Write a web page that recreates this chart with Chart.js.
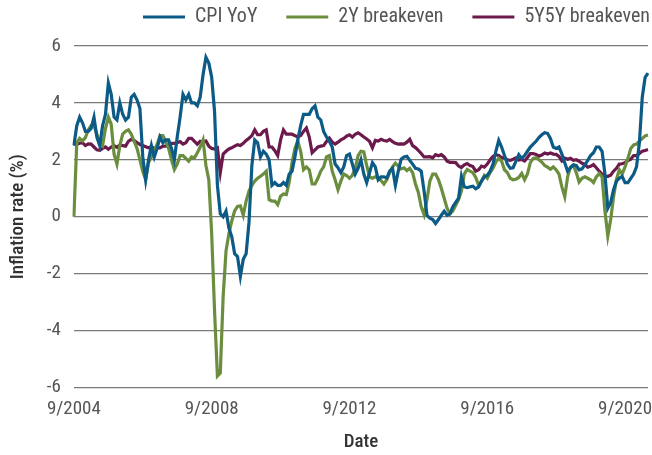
<!DOCTYPE html>
<html>
<head>
<meta charset="utf-8">
<script src="https://cdn.jsdelivr.net/npm/chart.js@4.4.1/dist/chart.umd.min.js"></script>
<style>
html, body { margin: 0; padding: 0; background: #fff; }
#wrap { width: 652px; height: 455px; }
</style>
</head>
<body>
<div id="wrap"><canvas id="myChart"></canvas></div>
<script>
// monthly, 9/2004 .. 5/2021
const cpiYoY = [
    2.5, 3.2, 3.5, 3.3,
    3.0, 3.0, 3.1, 3.5, 2.8, 2.5, 3.2, 3.6, 4.7, 4.3, 3.5, 3.4,
    4.0, 3.6, 3.4, 3.5, 4.2, 4.3, 4.1, 3.8, 2.1, 1.3, 2.0, 2.5,
    2.1, 2.4, 2.8, 2.6, 2.7, 2.7, 2.4, 2.0, 2.8, 3.5, 4.3, 4.1,
    4.3, 4.0, 4.0, 3.9, 4.2, 5.0, 5.6, 5.4, 4.9, 3.7, 1.1, 0.1,
    0.0, 0.2, -0.4, -0.7, -1.3, -1.4, -2.1, -1.5, -1.3, -0.2, 1.8, 2.7,
    2.6, 2.1, 2.3, 2.2, 2.0, 1.1, 1.2, 1.1, 1.1, 1.2, 1.1, 1.5,
    1.6, 2.1, 2.7, 3.2, 3.6, 3.6, 3.6, 3.8, 3.9, 3.5, 3.4, 3.0,
    2.8, 2.65, 2.45, 1.85, 1.72, 1.55, 1.75, 2.15, 2.2, 1.85, 1.5, 1.7,
    2.0, 1.5, 1.2, 1.55, 1.9, 1.75, 1.3, 1.4, 1.4, 1.36, 1.6, 1.7,
    1.1, 1.6, 2.02, 2.1, 2.12, 1.98, 1.85, 1.7, 1.68, 1.6, 0.9, 0.05,
    -0.05, -0.1, -0.24, -0.1, 0.05, 0.19, 0.05, 0.1, 0.35, 0.5, 0.65, 1.42,
    1.05, 1.02, 1.05, 1.07, 0.98, 1.05, 1.25, 1.4, 1.45, 1.6, 1.85, 2.3,
    2.68, 2.45, 2.15, 1.85, 1.7, 1.72, 1.95, 2.18, 2.05, 2.15, 2.3, 2.45,
    2.55, 2.65, 2.78, 2.88, 2.95, 2.93, 2.75, 2.45, 2.4, 2.45, 2.2, 1.9,
    1.6, 1.72, 1.82, 1.8, 1.65, 1.68, 1.82, 1.98, 2.15, 2.25, 2.45, 2.45,
    2.3, 1.5, 0.3, 0.5, 0.95, 1.25, 1.35, 1.42, 1.2, 1.2, 1.35, 1.5,
    1.75, 2.6, 4.2, 4.9, 5.05
];

const breakeven2Y = [
    0.0, 2.6, 2.75, 2.66,
    2.78, 3.05, 3.2, 3.2, 2.9, 2.6, 2.5, 3.1, 3.5, 3.25, 2.2, 1.85,
    2.5, 2.9, 3.0, 3.05, 2.9, 2.65, 2.4, 2.0, 1.6, 1.3, 1.9, 2.1,
    2.3, 2.55, 2.85, 2.85, 2.65, 2.4, 2.0, 1.66, 1.85, 2.15, 2.15, 2.05,
    1.95, 2.1, 2.07, 2.25, 2.45, 2.7, 1.8, 1.3, -0.6, -3.3, -5.6, -5.5,
    -2.8, -1.2, -0.6, -0.15, 0.2, 0.36, 0.38, 0.05, 0.55, 0.9, 1.1, 1.25,
    1.35, 1.42, 1.5, 1.6, 0.6, 0.55, 0.55, 0.42, 0.72, 0.8, 0.78, 1.2,
    1.9, 2.4, 2.66, 2.3, 1.65, 1.75, 1.65, 1.15, 1.15, 1.35, 1.6, 1.75,
    2.1, 2.15, 1.6, 1.3, 0.95, 1.25, 1.5, 1.45, 1.35, 1.45, 1.7, 2.15,
    2.3, 2.28, 1.8, 1.4, 1.35, 1.4, 1.36, 1.27, 1.15, 1.3, 1.55, 1.75,
    1.88, 1.78, 1.68, 1.72, 1.62, 1.7, 1.55, 1.15, 0.85, 0.35, 0.07, 0.6,
    1.25, 1.5, 1.5, 1.3, 1.0, 0.65, 0.3, 0.1, 0.2, 0.4, 0.6, 0.9,
    1.5, 1.66, 1.6, 1.55, 1.38, 1.1, 1.25, 1.45, 1.35, 1.55, 1.7, 1.92,
    2.05, 1.95, 1.65, 1.55, 1.35, 1.3, 1.32, 1.38, 1.52, 1.3, 1.5, 1.9,
    2.05, 2.07, 2.0, 1.92, 1.8, 1.74, 1.67, 1.75, 1.65, 1.5, 1.05, 0.7,
    1.4, 1.75, 1.82, 1.55, 1.22, 1.35, 1.4, 1.35, 1.3, 1.2, 1.4, 1.52,
    1.4, 0.2, -0.68, -0.1, 0.7, 1.3, 1.65, 1.5, 1.75, 2.05, 2.4, 2.52,
    2.55, 2.66, 2.75, 2.84, 2.87
];

const breakeven5Y5Y = [
    2.54, 2.54, 2.58, 2.6,
    2.5, 2.56, 2.55, 2.45, 2.35, 2.33, 2.4, 2.45, 2.37, 2.45, 2.5, 2.44,
    2.52, 2.5, 2.48, 2.65, 2.72, 2.68, 2.6, 2.54, 2.5, 2.46, 2.42, 2.46,
    2.4, 2.42, 2.42, 2.48, 2.48, 2.52, 2.58, 2.58, 2.6, 2.64, 2.55, 2.6,
    2.75, 2.75, 2.65, 2.55, 2.65, 2.62, 2.66, 2.48, 2.4, 2.38, 2.42, 1.55,
    2.2, 2.3, 2.38, 2.42, 2.48, 2.53, 2.5, 2.58, 2.68, 2.76, 2.85, 3.05,
    2.88, 2.88, 3.0, 3.05, 2.45, 2.45, 2.32, 2.15, 2.7, 3.05, 2.9, 2.9,
    2.9, 2.85, 2.8, 2.85, 3.0, 3.12, 2.8, 2.25, 2.35, 2.45, 2.48, 2.5,
    2.64, 2.76, 2.62, 2.55, 2.62, 2.7, 2.75, 2.83, 2.88, 2.8, 2.9, 2.95,
    2.88, 2.8, 2.73, 2.65, 2.42, 2.68, 2.66, 2.72, 2.68, 2.66, 2.72, 2.64,
    2.58, 2.55, 2.56, 2.55, 2.62, 2.72, 2.5, 2.43, 2.33, 2.22, 2.1, 2.1,
    2.11, 2.07, 2.18, 2.14, 2.18, 2.1, 1.95, 1.91, 1.91, 1.9, 1.78, 1.73,
    1.82, 1.87, 1.8, 1.76, 1.6, 1.65, 1.78, 1.74, 1.85, 2.0, 2.12, 2.18,
    2.15, 2.08, 2.07, 2.0, 1.98, 2.02, 2.07, 1.99, 2.01, 1.96, 2.08, 2.22,
    2.22, 2.19, 2.13, 2.17, 2.24, 2.2, 2.24, 2.2, 2.19, 2.12, 1.96, 2.06,
    2.02, 2.05, 1.98, 2.0, 1.95, 1.88, 1.84, 1.74, 1.77, 1.83, 1.72, 1.6,
    1.5, 1.42, 1.42, 1.46, 1.6, 1.7, 1.85, 1.86, 1.9, 1.97, 2.02, 2.15,
    2.15, 2.22, 2.3, 2.33, 2.36
];

const tickLabels = ['9/2004', '9/2008', '9/2012', '9/2016', '9/2020'];

// month labels m/yyyy starting at 9/2004
const months = [];
for (let k = 0; k < cpiYoY.length; k++) {
    const n = 8 + k;
    months.push((n % 12 + 1) + '/' + (2004 + Math.floor(n / 12)));
}

const fontFamily = "'Roboto Condensed', 'Liberation Sans Narrow', Roboto, sans-serif";

// push the plot down below the legend
const legendGap = {
    id: 'legendGap',
    afterInit(chart) {
        const fit = chart.legend.fit;
        chart.legend.fit = function() {
            fit.call(this);
            this.height += 9;
        };
    }
};

const config = {
    type: 'line',
    data: {
        labels: months,
        datasets: [
            { label: 'CPI YoY', data: cpiYoY, borderColor: '#0b5b86', backgroundColor: '#0b5b86' },
            { label: '2Y breakeven', data: breakeven2Y, borderColor: '#6b8d3e', backgroundColor: '#6b8d3e' },
            { label: '5Y5Y breakeven', data: breakeven5Y5Y, borderColor: '#6c1a4c', backgroundColor: '#6c1a4c' }
        ]
    },
    options: {
        responsive: true,
        maintainAspectRatio: false,
        animation: false,
        layout: { padding: { left: 0, right: 0, top: 5, bottom: 0 } },
        elements: {
            line: { borderWidth: 3.2, tension: 0 },
            point: { radius: 0 }
        },
        scales: {
            x: {
                grid: { display: false, drawTicks: false },
                border: { display: false },
                ticks: {
                    autoSkip: false,
                    maxRotation: 0,
                    padding: 10,
                    color: '#555',
                    font: { family: fontFamily, size: 19 },
                    callback: function(v, i) {
                        return tickLabels.includes(months[i]) ? months[i] : '';
                    }
                },
                title: {
                    display: true, text: 'Date', color: '#333',
                    padding: { top: 1, bottom: 1 },
                    font: { family: fontFamily, size: 19, weight: 500 }
                },
                afterFit: function(scale) { scale.paddingRight = 4; }
            },
            y: {
                min: -6,
                max: 6,
                grid: { color: '#7a7a7a', lineWidth: 1.3, drawTicks: false },
                border: { display: false },
                ticks: { stepSize: 2, padding: 13, color: '#555', font: { family: fontFamily, size: 19 } },
                title: {
                    display: true, text: 'Inflation rate (%)', color: '#333',
                    padding: { top: 7, bottom: 4 },
                    font: { family: fontFamily, size: 19, weight: 500 }
                }
            }
        },
        plugins: {
            legend: {
                position: 'top',
                align: 'end',
                labels: {
                    boxWidth: 42,
                    boxHeight: 3,
                    padding: 2,
                    color: '#555',
                    font: { family: fontFamily, size: 20 },
                    generateLabels: function(chart) {
                        const items = Chart.defaults.plugins.legend.labels.generateLabels(chart);
                        items.forEach((it, i) => {
                            it.lineWidth = 0;
                            it.fillStyle = it.strokeStyle;
                            if (i < items.length - 1) it.text += '\u2002\u2002\u2002';
                        });
                        return items;
                    }
                }
            },
            tooltip: { enabled: false }
        }
    },
    plugins: [legendGap]
};

let myChart = new Chart(document.getElementById('myChart'), config);
</script>
</body>
</html>
